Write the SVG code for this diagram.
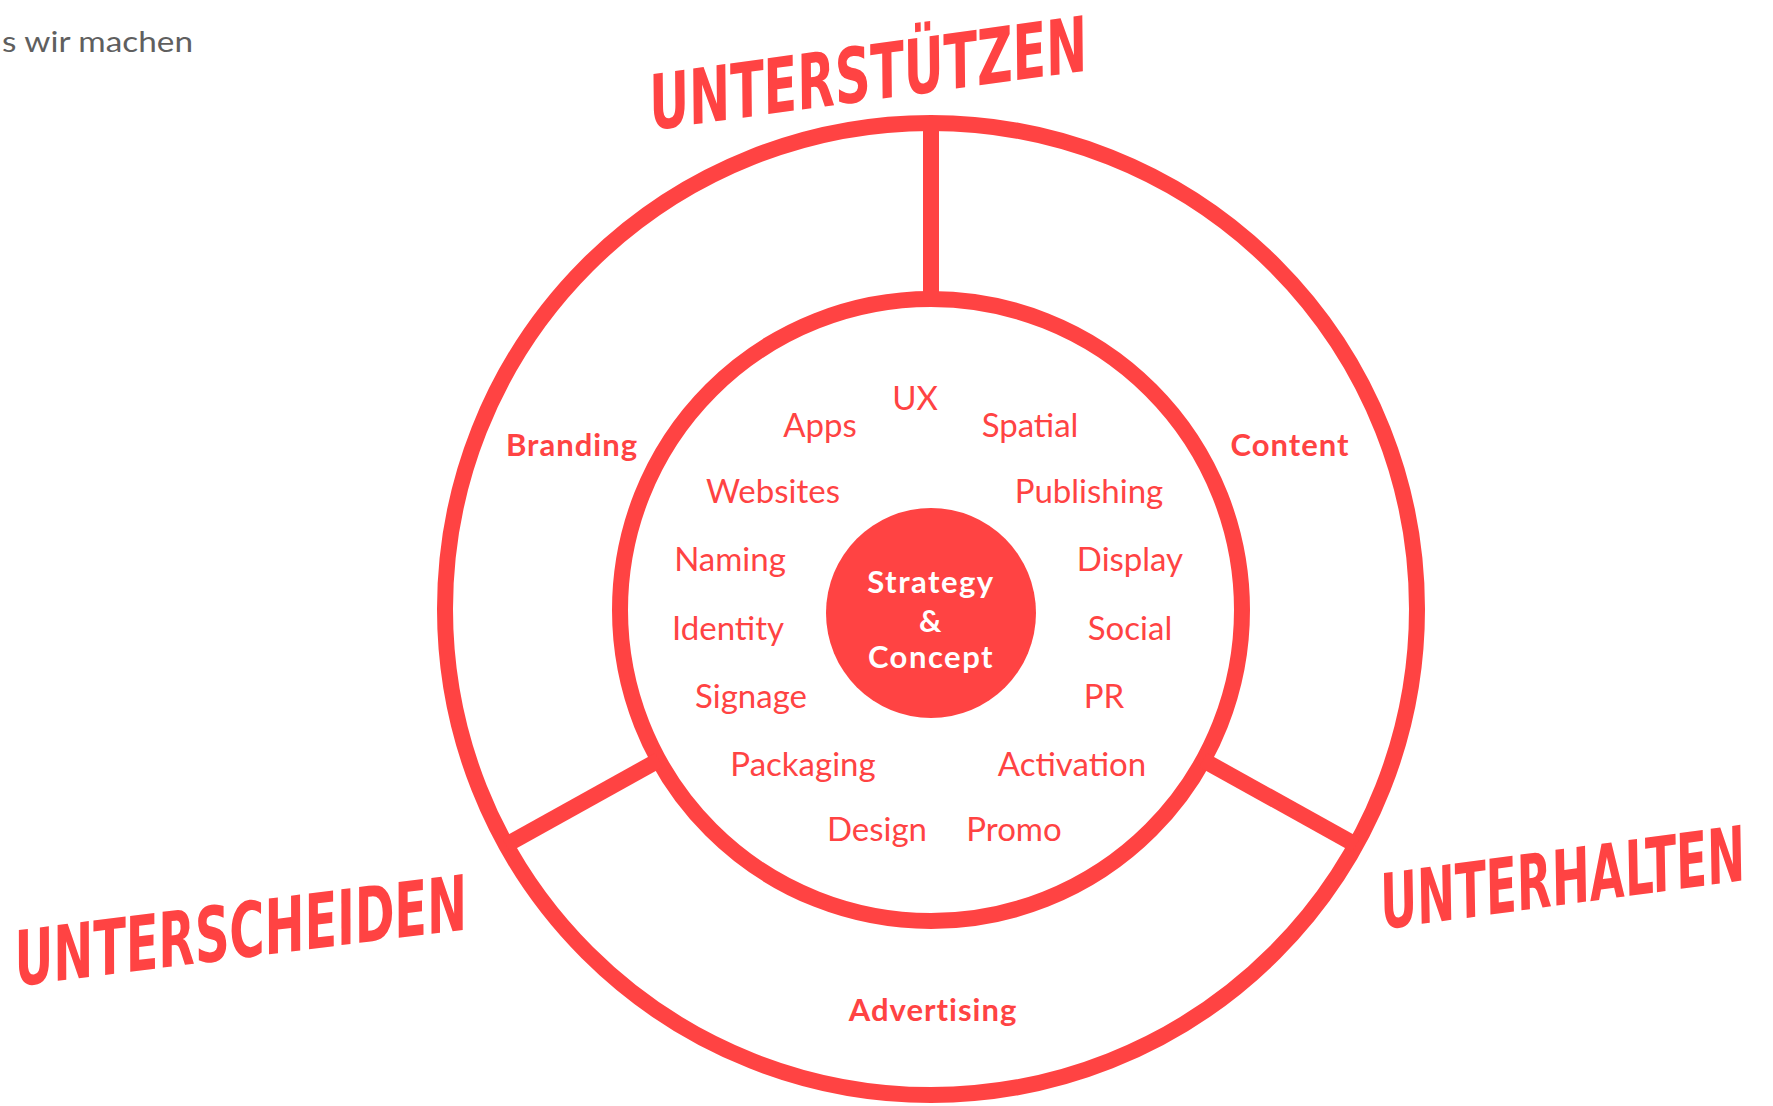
<svg xmlns="http://www.w3.org/2000/svg" width="1773" height="1106" viewBox="0 0 1773 1106">
  <style>
    .ring { fill: none; stroke: #FF4343; stroke-width: 16; }
    .div { stroke: #FF4343; stroke-width: 16; stroke-linecap: butt; }
    .svc { font-family: Lato, "Noto Sans", sans-serif; font-size: 33px; fill: #FF4343; text-anchor: middle; }
    .cat { font-family: Lato, "Noto Sans", sans-serif; font-size: 31px; font-weight: bold; fill: #FF4343; text-anchor: middle; letter-spacing: 1px; }
    .core { font-family: Lato, "Noto Sans", sans-serif; font-size: 31px; font-weight: bold; fill: #FFFFFF; text-anchor: middle; letter-spacing: 1.5px; }
    .brush { font-family: "DejaVu Sans Condensed", "Liberation Sans Narrow", "DejaVu Sans", sans-serif; font-size: 76px; font-weight: bold; font-style: oblique; fill: #FF4343; }
    .head { font-family: Lato, "Noto Sans", sans-serif; font-size: 28px; fill: #5F5F5F; }
  </style>
  <rect width="1773" height="1106" fill="#FFFFFF"/>

  <text class="head" x="2" y="52" textLength="191" lengthAdjust="spacingAndGlyphs">s wir machen</text>

  <g id="ring-outer"><circle class="ring" cx="931" cy="609" r="486"/></g>
  <g id="ring-inner"><circle class="ring" cx="931" cy="610" r="311"/></g>

  <g id="connectors">
    <line class="div" x1="931" y1="123" x2="931" y2="299"/>
    <line class="div" x1="506" y1="845" x2="659" y2="760"/>
    <line class="div" x1="1356" y1="845" x2="1203" y2="760"/>
  </g>

  <g id="core">
    <circle cx="931" cy="613" r="105" fill="#FF4343"/>
    <text class="core" x="931" y="593">Strategy</text>
    <text class="core" x="931" y="632">&amp;</text>
    <text class="core" x="931" y="668">Concept</text>
  </g>

  <g id="cat-branding"><text class="cat" x="572" y="456">Branding</text></g>
  <g id="cat-content"><text class="cat" x="1290" y="456">Content</text></g>
  <g id="cat-advertising"><text class="cat" x="933" y="1021">Advertising</text></g>

  <g id="services">
    <text class="svc" x="915" y="410">UX</text>
    <text class="svc" x="820" y="437">Apps</text>
    <text class="svc" x="1030" y="437">Spatial</text>
    <text class="svc" x="773" y="503">Websites</text>
    <text class="svc" x="1089" y="503">Publishing</text>
    <text class="svc" x="730" y="571">Naming</text>
    <text class="svc" x="1130" y="571">Display</text>
    <text class="svc" x="728" y="640">Identity</text>
    <text class="svc" x="1130" y="640">Social</text>
    <text class="svc" x="751" y="708">Signage</text>
    <text class="svc" x="1104" y="708">PR</text>
    <text class="svc" x="803" y="776">Packaging</text>
    <text class="svc" x="1072" y="776">Activation</text>
    <text class="svc" x="877" y="841">Design</text>
    <text class="svc" x="1014" y="841">Promo</text>
  </g>

  <g id="title-unterstuetzen">
    <text class="brush" x="0" y="0" transform="translate(653,130) rotate(-7.8)" textLength="442" lengthAdjust="spacingAndGlyphs">UNTERSTÜTZEN</text>
  </g>
  <g id="title-unterscheiden">
    <text class="brush" x="0" y="0" font-size="72" transform="translate(18,986) rotate(-7.2)" textLength="456" lengthAdjust="spacingAndGlyphs">UNTERSCHEIDEN</text>
  </g>
  <g id="title-unterhalten">
    <text class="brush" x="0" y="0" font-size="72" transform="translate(1384,929) rotate(-7.7)" textLength="368" lengthAdjust="spacingAndGlyphs">UNTERHALTEN</text>
  </g>
</svg>
